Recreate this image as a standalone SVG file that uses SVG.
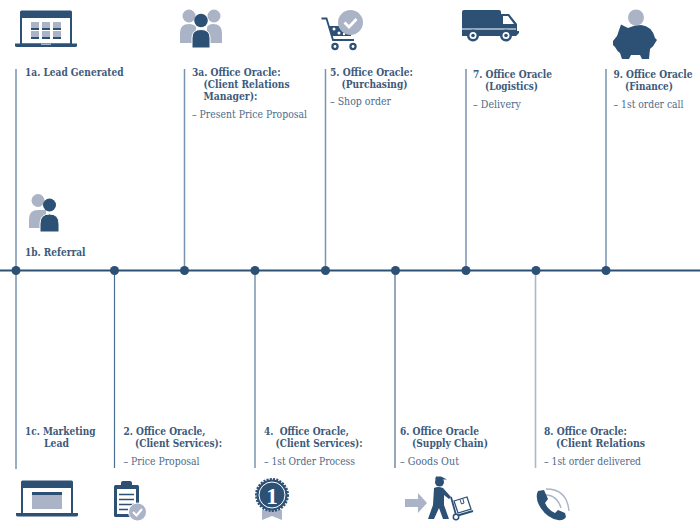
<svg xmlns="http://www.w3.org/2000/svg" width="700" height="528" viewBox="0 0 700 528">
<style>
.d{fill:#2d5075}.g{fill:#abb4c7}.w{fill:#fff}
.b{font:bold 11px "DejaVu Serif Condensed","DejaVu Serif","Liberation Serif",serif;fill:#3d5a7c}
.r{font:11px "DejaVu Serif Condensed","DejaVu Serif","Liberation Serif",serif;fill:#4e6a89}
.v{stroke:#7a93ae;stroke-width:1.500;fill:none}
.dot{fill:#2d5075}
</style>
<rect width="700" height="528" fill="#fff"/>
<g id="connectors">
<path d="M0 270.500H700" stroke="#2d5075" stroke-width="1.800" fill="none"/>
<path class="v" d="M16 69V469M184.500 69V270M325.500 69V270M466 69V270M606 69V270"/>
<path d="M114.500 270V468M395 270V468" stroke="#4d6d8e" stroke-width="1.200" fill="none"/>
<path d="M255 270V468" stroke="#7a93ae" stroke-width="1.500" fill="none"/>
<path d="M535.500 270V468" stroke="#a9b8cc" stroke-width="1.600" fill="none"/>
<g class="dot"><circle cx="16" cy="270.500" r="4.500"/><circle cx="114.500" cy="270.500" r="4.500"/><circle cx="184.500" cy="270.500" r="4.500"/><circle cx="255" cy="270.500" r="4.500"/><circle cx="325.500" cy="270.500" r="4.500"/><circle cx="395.500" cy="270.500" r="4.500"/><circle cx="466" cy="270.500" r="4.500"/><circle cx="536" cy="270.500" r="4.500"/><circle cx="606" cy="270.500" r="4.500"/></g>
</g>
<g id="n1a">
<rect class="d" x="20" y="10.500" width="52" height="35" rx="1.500"/><rect class="w" x="22" y="18" width="48" height="25.500"/>
<path class="d" d="M15 43.500H77V45.500Q77 47 75 47H17Q15 47 15 45.500Z"/>
<path class="g" d="M41 43.500H51V45H41Z"/>
<path class="g" d="M31 22h8v6h-8zM42 22h8v6h-8zM53 22h8v6h-8zM31 31h8v6h-8zM42 31h8v6h-8zM53 31h8v6h-8z"/>
<path class="d" d="M31 28h8v2h-8zM42 28h8v2h-8zM53 28h8v2h-8zM31 37h8v2h-8zM42 37h8v2h-8zM53 37h8v2h-8z"/>
<text class="b" x="25" y="76" textLength="98.500" lengthAdjust="spacingAndGlyphs">1a. Lead Generated</text>
</g>
<g id="n3a">
<circle class="g" cx="189" cy="16" r="6.500"/><circle class="g" cx="214" cy="16" r="6.500"/>
<path class="g" d="M180 43V33Q180 24 189 24Q194 24 196 27V43ZM207 43V27Q209 24 213 24Q222 24 222 33V43Z"/>
<circle class="d" cx="201" cy="20.500" r="6.800"/>
<path class="d" d="M192 48V38Q192 29.500 201 29.500Q210 29.500 210 38V48Z" stroke="#fff" stroke-width="1"/>
<text class="b" x="192" y="76" textLength="88.500" lengthAdjust="spacingAndGlyphs">3a. Office Oracle:</text>
<text class="b" x="203.500" y="88" textLength="86" lengthAdjust="spacingAndGlyphs">(Client Relations</text>
<text class="b" x="203.500" y="100" textLength="54" lengthAdjust="spacingAndGlyphs">Manager):</text>
<text class="r" x="192" y="118" textLength="115" lengthAdjust="spacingAndGlyphs">– Present Price Proposal</text>
</g>
<g id="n5">
<path d="M321.500 18.500H326.500L333 40H354" fill="none" stroke="#2d5075" stroke-width="1.800"/>
<path class="d" d="M328.500 26H352L351 36H332Z"/>
<circle class="d" cx="335" cy="46.500" r="3.700"/><circle class="d" cx="353" cy="46.500" r="3.700"/><circle class="w" cx="335" cy="46.500" r="1.400"/><circle class="w" cx="353" cy="46.500" r="1.400"/>
<circle class="w" cx="339" cy="33" r="1.500"/><circle class="w" cx="344" cy="34" r="1.200"/><circle class="w" cx="334" cy="29" r="1.500"/>
<circle class="g" cx="350.500" cy="22.500" r="12.500"/>
<path d="M344.500 22.500L349 27L356.500 19" fill="none" stroke="#fff" stroke-width="2.800"/>
<text class="b" x="330" y="76" textLength="83" lengthAdjust="spacingAndGlyphs">5. Office Oracle:</text>
<text class="b" x="341.500" y="88" textLength="66" lengthAdjust="spacingAndGlyphs">(Purchasing)</text>
<text class="r" x="330" y="105" textLength="61" lengthAdjust="spacingAndGlyphs">– Shop order</text>
</g>
<g id="n7">
<path class="d" d="M462 12Q462 10 464 10H499Q501 10 501 12V14H509L517 24V31H519V33L516 36H462Z"/>
<path class="w" d="M503 16H508L514 24H503Z"/>
<path class="w" d="M462 28.500H516V29.500H462Z"/>
<circle class="d" cx="473" cy="35.500" r="6"/><circle class="w" cx="473" cy="35.500" r="3.500"/><circle class="d" cx="473" cy="35.500" r="1.800"/>
<circle class="d" cx="506" cy="35.500" r="6"/><circle class="w" cx="506" cy="35.500" r="3.500"/><circle class="d" cx="506" cy="35.500" r="1.800"/>
<text class="b" x="473" y="78" textLength="79" lengthAdjust="spacingAndGlyphs">7. Office Oracle</text>
<text class="b" x="485" y="90" textLength="53" lengthAdjust="spacingAndGlyphs">(Logistics)</text>
<text class="r" x="473" y="108" textLength="48" lengthAdjust="spacingAndGlyphs">– Delivery</text>
</g>
<g id="n9">
<circle class="g" cx="636" cy="17.500" r="8"/>
<path class="d" d="M621 24.500L628 28Q634 25 641 25Q652 26 655 38L657 40L655 43Q654 46 650 49L649 59H642L640 55H631L629 59H622L620 53Q617 51 615 47L613 45V41L617 36Z"/>
<text class="b" x="613.500" y="78" textLength="79" lengthAdjust="spacingAndGlyphs">9. Office Oracle</text>
<text class="b" x="625" y="90" textLength="48" lengthAdjust="spacingAndGlyphs">(Finance)</text>
<text class="r" x="613.500" y="108" textLength="70" lengthAdjust="spacingAndGlyphs">– 1st order call</text>
</g>
<g id="n1b">
<circle class="g" cx="38" cy="200.500" r="6.500"/>
<path class="g" d="M29 228V219Q29 210 38 210H46V228Z"/>
<circle class="d" cx="49.500" cy="205" r="6.500"/>
<path class="d" d="M40 232V224Q40 214 49.500 214Q59 214 59 224V232Z" stroke="#fff" stroke-width="1"/>
<text class="b" x="25" y="256" textLength="60.500" lengthAdjust="spacingAndGlyphs">1b. Referral</text>
</g>
<g id="n1c">
<text class="b" x="25" y="435" textLength="70.500" lengthAdjust="spacingAndGlyphs">1c. Marketing</text>
<text class="b" x="44" y="447" textLength="25" lengthAdjust="spacingAndGlyphs">Lead</text>
<rect class="d" x="21" y="480.500" width="52" height="35" rx="1.500"/><rect class="w" x="23" y="488" width="48" height="25"/>
<path class="d" d="M16 513H78V515Q78 516.500 76 516.500H18Q16 516.500 16 515Z"/>
<rect class="g" x="32" y="492" width="30" height="17"/><rect class="d" x="32" y="492" width="30" height="3"/>
</g>
<g id="n2">
<text class="b" x="123.500" y="435" textLength="82" lengthAdjust="spacingAndGlyphs">2. Office Oracle,</text>
<text class="b" x="135" y="447" textLength="87" lengthAdjust="spacingAndGlyphs">(Client Services):</text>
<text class="r" x="123.500" y="465" textLength="76" lengthAdjust="spacingAndGlyphs">– Price Proposal</text>
<rect class="d" x="114" y="485" width="25" height="32" rx="1.500"/>
<rect class="d" x="121" y="481" width="11" height="6" rx="2"/>
<rect class="w" x="117" y="489" width="19" height="25"/>
<path d="M119 494.500H134M119 499.500H134M119 504.500H134M119 509.500H128" stroke="#2d5075" stroke-width="1.300"/>
<circle class="g" cx="137.500" cy="512" r="9" stroke="#fff"/>
<path d="M133 512L136.500 515.500L142 509" fill="none" stroke="#fff" stroke-width="2"/>
</g>
<g id="n4">
<text class="b" x="264" y="435" textLength="85" lengthAdjust="spacingAndGlyphs" xml:space="preserve">4.  Office Oracle,</text>
<text class="b" x="275.500" y="447" textLength="87" lengthAdjust="spacingAndGlyphs">(Client Services):</text>
<text class="r" x="264" y="465" textLength="91" lengthAdjust="spacingAndGlyphs">– 1st Order Process</text>
<path class="g" d="M262 510H282V520L272 516L262 520Z"/>
<circle cx="272" cy="495" r="15.500" fill="#2d5075" stroke="#2d5075" stroke-width="3" stroke-dasharray="2 1.200"/>
<circle fill="none" stroke="#fff" stroke-width="1" cx="272" cy="495" r="13"/>
<text x="272" y="503.500" text-anchor="middle" style="font:bold 23px 'Liberation Serif',serif;fill:#fff">1</text>
</g>
<g id="n6">
<text class="b" x="400" y="435" textLength="79" lengthAdjust="spacingAndGlyphs">6. Office Oracle</text>
<text class="b" x="412" y="447" textLength="76" lengthAdjust="spacingAndGlyphs">(Supply Chain)</text>
<text class="r" x="400" y="465" textLength="59" lengthAdjust="spacingAndGlyphs">– Goods Out</text>
<path class="g" d="M405 499H418V493L427 503L418 513V507H405Z"/>
<circle class="d" cx="439.500" cy="482" r="4.500"/><path class="d" d="M435 479.500H447L441 476.500H436Z"/>
<path class="d" d="M434 488Q438 486 443 488L451 497L449 499L444 495L444 505L449 519H443L439 508L434 519H428L433 505Z"/>
<path d="M451 497L456 515" stroke="#2d5075" stroke-width="1.800" fill="none"/>
<path d="M456 516L473 511" stroke="#2d5075" stroke-width="2" fill="none"/>
<circle cx="456" cy="517" r="2.700" fill="#fff" stroke="#2d5075" stroke-width="1.500"/>
<path d="M454 501L467 497L471 509L458 513Z" fill="#fff" stroke="#2d5075" stroke-width="1.300"/>
<path d="M460 499.500L461.500 504L464 503L462.800 498.500" fill="none" stroke="#2d5075" stroke-width="1"/>
</g>
<g id="n8">
<text class="b" x="544" y="435" textLength="83" lengthAdjust="spacingAndGlyphs">8. Office Oracle:</text>
<text class="b" x="556" y="447" textLength="89" lengthAdjust="spacingAndGlyphs">(Client Relations</text>
<text class="r" x="544" y="465" textLength="97" lengthAdjust="spacingAndGlyphs">– 1st order delivered</text>
<path d="M545.500 495Q557 495 561 508" fill="none" stroke="#abb4c7" stroke-width="1.400"/>
<path d="M546 489Q567 489 569 511" fill="none" stroke="#abb4c7" stroke-width="1.400"/>
<path class="d" d="M538 491L544 490L548 499L545 503Q548 510 555 513L558 510L565 513L566 517Q563 521 558 520Q546 518 539 505Q535 497 538 491Z"/>
</g>
</svg>
